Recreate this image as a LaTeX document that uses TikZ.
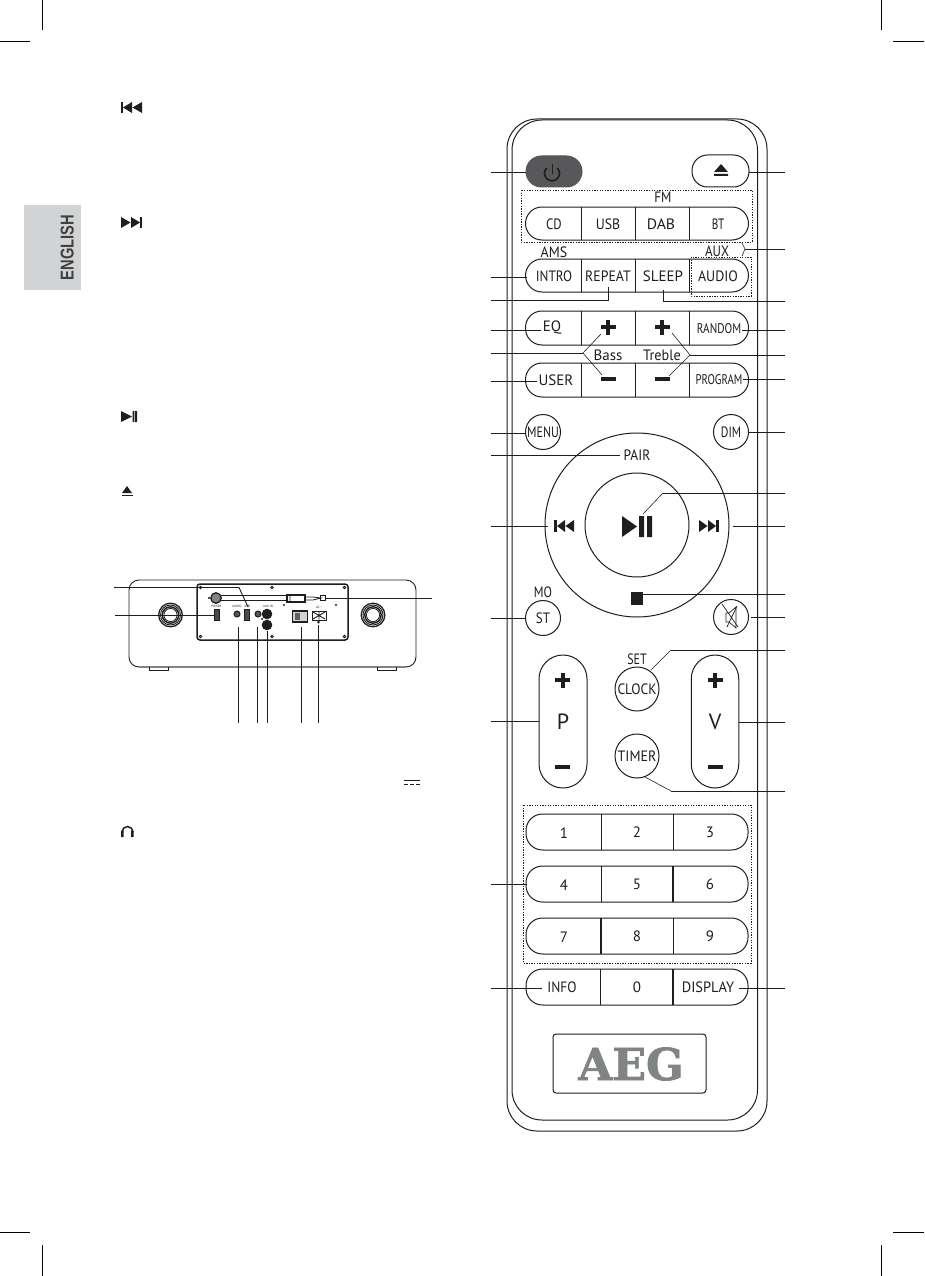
\documentclass[tikz,border=0pt]{standalone}
\usepackage{fontspec}
\setmainfont{PT Sans}
\newfontfamily\engfont{Liberation Sans}
\newfontfamily\aegfont[BoldFeatures={FakeBold=1.6}]{DejaVu Serif}
\definecolor{ink}{HTML}{1E1E1E}
\definecolor{tabgray}{HTML}{D2D3D4}
\definecolor{powergray}{HTML}{58585A}
\definecolor{aeggray}{HTML}{808485}
\newcommand{\fs}[1]{\fontsize{#1}{#1}\selectfont}
\newcommand{\nw}[2]{\scalebox{#1}[1]{#2}}
\tikzset{
  base/.style={draw=ink,line width=1pt,inner sep=0pt,outer sep=0pt},
  pill/.style={base,rectangle,rounded corners=16.5pt,minimum width=#1,minimum height=33pt},
  roundbtn/.style={base,circle,minimum size=#1},
  lead/.style={draw=ink,line width=0.9pt},
  thinlead/.style={draw=ink,line width=0.6pt},
  dotbox/.style={draw=ink,line width=0.8pt,dash pattern=on 1.3pt off 1.3pt},
  lbl/.style={inner sep=0pt,text=ink,font=\fs{15}},
  crop/.style={draw=black,line width=1pt},
  divider/.style={draw=ink,line width=0.9pt},
  tiny/.style={inner sep=0pt,text=ink,font=\fs{3.2}},
}
\begin{document}
\begin{tikzpicture}[x=1pt,y=-1pt]
\useasboundingbox[fill=white] (0,0) rectangle (924,1276);

% crop marks
\draw[crop] (42,0)--(42,30) (0,42)--(30,42);
\draw[crop] (881,0)--(881,30) (893,42)--(924,42);
\draw[crop] (42,1245)--(42,1276) (0,1232)--(30,1232);
\draw[crop] (881,1245)--(881,1276) (893,1232)--(924,1232);

% language tab
\fill[tabgray] (24,205) rectangle (81,290);
\node[rotate=90,inner sep=0pt,text=ink!85!white,font=\engfont\bfseries\fs{18.6}] (tab) at (67.3,247.7) {\nw{0.79}{ENGLISH}};

% icons of the text column
\fill[ink] (121,102) rectangle (123,113);
\fill[ink] (123,107.5)--(132,102)--(132,113)--cycle (132.5,107.5)--(142,102)--(142,113)--cycle;
\fill[ink] (142,217) rectangle (140,228);
\fill[ink] (140,222.5)--(131,217)--(131,228)--cycle (130.5,222.5)--(121,217)--(121,228)--cycle;
\fill[ink] (121,411)--(132,416.5)--(121,422)--cycle;
\fill[ink] (132.5,411) rectangle (134.3,422) (135.2,411) rectangle (137,422);
\fill[ink] (122,493)--(127,486)--(132,493)--cycle;
\fill[ink] (121.5,494.6) rectangle (132.5,495.6);
\draw[ink,line width=1.5pt] (122,832) arc[start angle=180,end angle=0,radius=5.5pt];
\fill[ink] (121,830.5) rectangle (123.5,837) (131,830.5) rectangle (133.5,837);
\draw[ink,line width=1pt] (404,780.5)--(420,780.5);
\draw[ink,line width=1pt,dash pattern=on 3.6pt off 2.6pt] (404,784.5)--(420,784.5);

% ---------- audio unit ----------
\draw[ink,line width=0.9pt,rounded corners=10pt] (129,580) rectangle (416,667);
\draw[ink!55!white,line width=1.2pt] (139,667)--(406,667);
\draw[ink,line width=0.8pt] (149,667)--(149,670)--(168,670)--(168,667);
\draw[ink,line width=0.8pt] (377,667)--(377,670)--(396,670)--(396,667);
\foreach \cx in {170.5,373}{
  \draw[ink,line width=1.3pt] (\cx,615) circle[radius=11.8pt];
  \draw[ink,line width=0.9pt] (\cx,615) circle[radius=10pt];
  \draw[ink,line width=1.4pt] (\cx,615) circle[radius=8.2pt];
  \draw[ink,line width=0.8pt] (\cx,615) circle[radius=6.6pt];
}
\draw[ink,line width=1.5pt,rounded corners=3pt] (197,584) rectangle (348,640);
\foreach \sx/\sy in {200.5/587.5,344.5/587.5,200.5/636.5,344.5/636.5,272/587.5,272/636.5}{
  \draw[ink,line width=0.8pt] (\sx,\sy) circle[radius=1.3pt];}
\foreach \sx/\sy in {209/598,284/605,336/605,262/619}{
  \fill[ink] (\sx,\sy) circle[radius=1.2pt];}
% antenna
\node[base,circle,minimum size=10.5pt,fill=ink!55!white,line width=1.3pt] (antbase) at (216,598) {};
\draw[ink,line width=0.7pt] (221,595.5)--(288,595.5) (221,600.5)--(288,600.5);
\node[base,rectangle,minimum width=18pt,minimum height=7pt,line width=1.2pt,fill=white] (antblock) at (296,598.5) {};
\draw[ink,line width=0.8pt] (290,595.5)--(290,602) (305,597)--(313,597) (305,600)--(313,600) (313,597)--(321,598)--(313,600);
\node[base,rectangle,minimum width=4.5pt,minimum height=4.5pt,line width=0.8pt] (anttip) at (323,598) {};
% sockets
\node[base,rectangle,minimum width=5pt,minimum height=11.5pt,fill=ink!80!white] (usba) at (216.5,615) {};
\node[base,rectangle,minimum width=5pt,minimum height=11.5pt,fill=ink!80!white] (usbb) at (247,615) {};
\node[base,circle,minimum size=6pt,fill=ink!75!white] (audiojack) at (237,614) {};
\node[base,circle,minimum size=6pt,fill=ink!75!white] (phonejack) at (258,614) {};
\node[base,circle,minimum size=9.5pt,fill=ink] (rcaa) at (267,614) {};
\node[base,circle,minimum size=9.5pt,fill=ink] (rcab) at (267,625) {};
\node[base,rectangle,minimum width=15pt,minimum height=10.5pt,line width=1.7pt,fill=ink!20!white] (switch) at (300,616.5) {};
\fill[ink!70!white] (295,613) rectangle (299.5,620);
\node[base,rectangle,minimum width=14pt,minimum height=9pt,line width=1pt,fill=white] (acsock) at (319,615.5) {};
\draw[ink,line width=0.9pt] (313,612)--(325,619) (313,619)--(325,612) (319,611.5)--(319,619.5);
\fill[ink] (318.5,622) circle[radius=1.5pt];
\node[tiny] (tpower) at (216.5,606) {POWER};
\node[tiny] (taudio) at (237,606) {AUDIO};
\node[tiny] (tusb) at (247,606) {USB};
\node[tiny] (tline) at (268,606) {AUX IN};
\node[tiny] (tac) at (319,607) {AC\,\textasciitilde};

\coordinate (ua) at (114,587.5); \coordinate (uab) at (239,587.5); \coordinate (uat) at (248,607);
\coordinate (ub) at (115,615);
\coordinate (uc) at (432,598);
\draw[lead] (ua)--(uab)--(uat);
\draw[lead] (ub)--(usba.west);
\draw[lead] (anttip.east)--(uc);
\foreach \nm/\vx/\vt in {a/238/627,b/257/627,c/267/631,d/301/627,e/318/625}{
  \coordinate (vt\nm) at (\vx,\vt);
  \coordinate (vb\nm) at (\vx,723);
  \draw[lead] (vt\nm)--(vb\nm);
}

% ---------- remote body ----------
\draw[ink,line width=1pt,rounded corners=30pt] (507,119) rectangle (767,1131);
\draw[ink,line width=1pt,rounded corners=30pt] (512,120) rectangle (757.5,1120);

% power + eject
\node[base,rectangle,rounded corners=15.5pt,minimum width=56pt,minimum height=31pt,fill=powergray,draw=powergray] (power) at (554,171.5) {};
\draw[ink,line width=1.7pt] (557.3,168) arc[start angle=45,end angle=-225,radius=7.5pt];
\draw[ink,line width=1.7pt] (552.5,164.5)--(552.5,174);
\node[base,rectangle,rounded corners=15.5pt,minimum width=57pt,minimum height=32pt] (eject) at (720.5,171) {};
\fill[ink] (714,172)--(721,164)--(728,172)--cycle (714,174) rectangle (728,176);

% dotted groups
\draw[dotbox] (521,190) rectangle (752,242);
\draw[dotbox] (691,257) rectangle (751,296);
\draw[dotbox] (523,805) rectangle (751,963);

% button rows
\node[pill=223pt] (rowa) at (637,223.5) {};
\node[pill=223pt] (rowb) at (637,275.5) {};
\node[pill=223pt,minimum height=34pt] (rowc) at (637,328) {};
\node[pill=223pt,minimum height=34pt] (rowd) at (637,380) {};
\foreach \rr in {rowa,rowb,rowc,rowd}{
  \foreach \dx in {581,635,689}{
    \draw[divider] (\dx,0 |- \rr.north)--(\dx,0 |- \rr.south);
  }
}
\node[lbl] (tfm) at (663,197) {\nw{.87}{FM}};
\node[lbl] (tcd) at (554,224) {\nw{.85}{CD}};
\node[lbl] (tusbb) at (608,224) {\nw{.92}{USB}};
\node[lbl] (tdab) at (661,224) {\nw{1.05}{DAB}};
\node[lbl] (tbt) at (718,224) {\nw{.75}{BT}};
\node[lbl] (tams) at (554,252) {\nw{.93}{AMS}};
\node[lbl] (taux) at (717,251) {\nw{.86}{AUX}};
\node[lbl] (tintro) at (554,276) {\nw{.88}{INTRO}};
\node[lbl] (trepeat) at (608,276) {\nw{.92}{REPEAT}};
\node[lbl] (tsleep) at (663,276) {SLEEP};
\node[lbl] (taud) at (718,276) {\nw{.93}{AUDIO}};
\node[lbl] (teq) at (552,328) {EQ};
\node[lbl,font=\fs{14}] (trandom) at (719,329) {\nw{.8}{RANDOM}};
\node[lbl] (tbass) at (608,355) {Bass};
\node[lbl] (ttreble) at (662,355) {\nw{.95}{Treble}};
\node[lbl] (tuser) at (556,380) {USER};
\node[lbl,font=\fs{14}] (tprogram) at (719,380) {\nw{.77}{PROGRAM}};
\foreach \px in {608,662}{
  \fill[ink] (\px-7.5,325.2) rectangle (\px+7.5,329.2);
  \fill[ink] (\px-2,319.7) rectangle (\px+2,334.7);
  \fill[ink] (\px-7.5,377.3) rectangle (\px+7.5,380.7);
}

% round buttons
\node[roundbtn=35pt,lbl] (menu) at (543,432) {\nw{.8}{MENU}};
\node[roundbtn=35pt,lbl] (dim) at (731,432) {\nw{.78}{DIM}};
\node[roundbtn=184pt] (ring) at (637,525) {};
\node[roundbtn=104pt] (play) at (637,525) {};
\node[lbl] (tpair) at (637,455) {\nw{.9}{PAIR}};
\node[lbl] (tmo) at (543,592) {\nw{.82}{MO}};
\node[roundbtn=35pt,lbl] (st) at (543,618) {\nw{.87}{ST}};
\node[roundbtn=35pt] (mute) at (731,617) {};
\fill[ink] (554,520) rectangle (557,532);
\fill[ink] (557,526)--(565,520)--(565,532)--cycle (565.5,526)--(574,520)--(574,532)--cycle;
\fill[ink] (719,520) rectangle (716,532);
\fill[ink] (716,526)--(708,520)--(708,532)--cycle (707.5,526)--(699,520)--(699,532)--cycle;
\fill[ink] (622,516)--(637,526.5)--(622,537)--cycle;
\fill[ink] (639,516) rectangle (644,537) (647,516) rectangle (652,537);
\node[fill=ink,inner sep=0pt,minimum size=12.5pt] (stop) at (637,598.5) {};
\draw[ink,line width=0.7pt] (726,613)--(729,613)--(736,607)--(736,628)--(729,622)--(726,622)--cycle;
\draw[ink,line width=0.7pt] (722,604)--(738,627) (737,606)--(727,627);

% P / V / clock / timer
\node[base,rectangle,rounded corners=24pt,minimum width=48pt,minimum height=133pt] (pbtn) at (563,721.5) {};
\node[base,rectangle,rounded corners=24pt,minimum width=47.5pt,minimum height=133pt] (vbtn) at (715,721.5) {};
\node[roundbtn=44pt,lbl] (clock) at (637,689) {\nw{.9}{CLOCK}};
\node[roundbtn=44pt,lbl] (timer) at (637,756) {\nw{.93}{TIMER}};
\node[lbl] (tset) at (637,659) {\nw{.8}{SET}};
\node[lbl,font=\fs{22}] (tp) at (563,722) {P};
\node[lbl,font=\fs{22}] (tv) at (715,722) {V};
\foreach \px in {562.5,715}{
  \fill[ink] (\px-7.5,678) rectangle (\px+7.5,682);
  \fill[ink] (\px-2,672.5) rectangle (\px+2,687.5);
  \fill[ink] (\px-7.5,765.3) rectangle (\px+7.5,768.7);
}

% keypad
\foreach \ky/\ka/\kb/\kc in {832/1/2/3,884/4/5/6,936/7/8/9}{
  \node[pill=222pt,minimum height=36pt] (key\ka) at (637,\ky) {};
  \draw[divider] (601,\ky-18)--(601,\ky+18) (673,\ky-18)--(673,\ky+18);
  \node[lbl] (kt\ka) at (564,\ky+1) {\ka};
  \node[lbl] (kt\kb) at (637,\ky) {\kb};
  \node[lbl] (kt\kc) at (710,\ky) {\kc};
}
\draw[ink,line width=1.5pt] (601,918)--(601,954) (673,866)--(673,902);

% info row
\node[pill=222pt,minimum height=36pt] (rowe) at (637,987) {};
\draw[divider] (600.5,969)--(600.5,1005);
\draw[ink,line width=1.5pt] (673,969)--(673,1005);
\node[lbl] (tinfo) at (562,987) {\nw{.9}{INFO}};
\node[lbl] (tzero) at (637,987) {0};
\node[lbl] (tdisplay) at (708,987) {\nw{.96}{DISPLAY}};

% logo
\node[base,rectangle,rounded corners=3pt,minimum width=153pt,minimum height=59pt] (logo) at (629.5,1063.5) {};
\node[inner sep=0pt,text=aeggray,font=\aegfont\bfseries\fs{44}] (taeg) at (631,1064) {AEG};

% ---------- leaders, left ----------
\foreach \nm/\ly in {a/172,b/277,c/300,d/330,e/353,f/381,g/433,h/455,i/526,j/618,k/721,l/884,m/988}{
  \coordinate (L\nm) at (491,\ly);
}
\foreach \nm/\ly in {a/172,b/249,c/301,d/330,e/355,f/379,g/432,h/493,i/526,j/594,k/617,l/650,m/722,n/791,o/988}{
  \coordinate (R\nm) at (785,\ly);
}
\draw[lead] (La)--(power.west |- La);
\draw[lead] (Lb)--(527,277);
\coordinate (repb) at (608,300); \coordinate (rept) at (608,287);
\draw[lead] (Lc)--(repb)--(rept);
\draw[lead] (Ld)--(541,330);
\coordinate (bassk) at (583,353); \coordinate (bassu) at (601,334); \coordinate (bassd) at (602,375);
\draw[lead] (Le)--(bassk);
\draw[thinlead] (bassu)--(bassk)--(bassd);
\draw[lead] (Lf)--(537,381);
\draw[lead] (Lg)--(menu.west |- Lg);
\draw[lead] (Lh)--(620,455);
\draw[lead] (Li)--(548,526);
\draw[lead] (Lj)--(st.west |- Lj);
\draw[lead] (Lk)--(pbtn.west |- Lk);
\draw[lead] (Ll)--(527,884);
\draw[lead] (Lm)--(542,988);

% ---------- leaders, right ----------
\draw[lead] (Ra)--(eject.east |- Ra);
\coordinate (auxa) at (742,243); \coordinate (auxb) at (745,249); \coordinate (auxc) at (742,256);
\draw[lead] (Rb)--(auxb);
\draw[thinlead] (auxa)--(auxb)--(auxc);
\coordinate (slpb) at (663,301); \coordinate (slpt) at (663,290);
\draw[lead] (Rc)--(slpb)--(slpt);
\draw[lead] (Rd)--(742,330);
\coordinate (trk) at (690,355); \coordinate (tru) at (672,333); \coordinate (trd) at (669,376);
\draw[lead] (Re)--(trk);
\draw[thinlead] (tru)--(trk)--(trd);
\draw[lead] (Rf)--(743,379);
\draw[lead] (Rg)--(dim.east |- Rg);
\coordinate (plk) at (663,493); \coordinate (pld) at (643,514);
\draw[lead] (Rh)--(plk);
\draw[thinlead] (plk)--(pld);
\draw[lead] (Ri)--(733,526);
\draw[lead] (Rj)--(stop.east |- Rj);
\draw[lead] (Rk)--(751,617);
\coordinate (clk) at (671,650); \coordinate (cld) at (651,670);
\draw[lead] (Rl)--(clk);
\draw[thinlead] (clk)--(cld);
\draw[lead] (Rm)--(vbtn.east |- Rm);
\coordinate (tmk) at (671,791); \coordinate (tmd) at (645,777);
\draw[lead] (Rn)--(tmk);
\draw[thinlead] (tmk)--(tmd);
\draw[lead] (Ro)--(739,988);
\end{tikzpicture}
\end{document}
